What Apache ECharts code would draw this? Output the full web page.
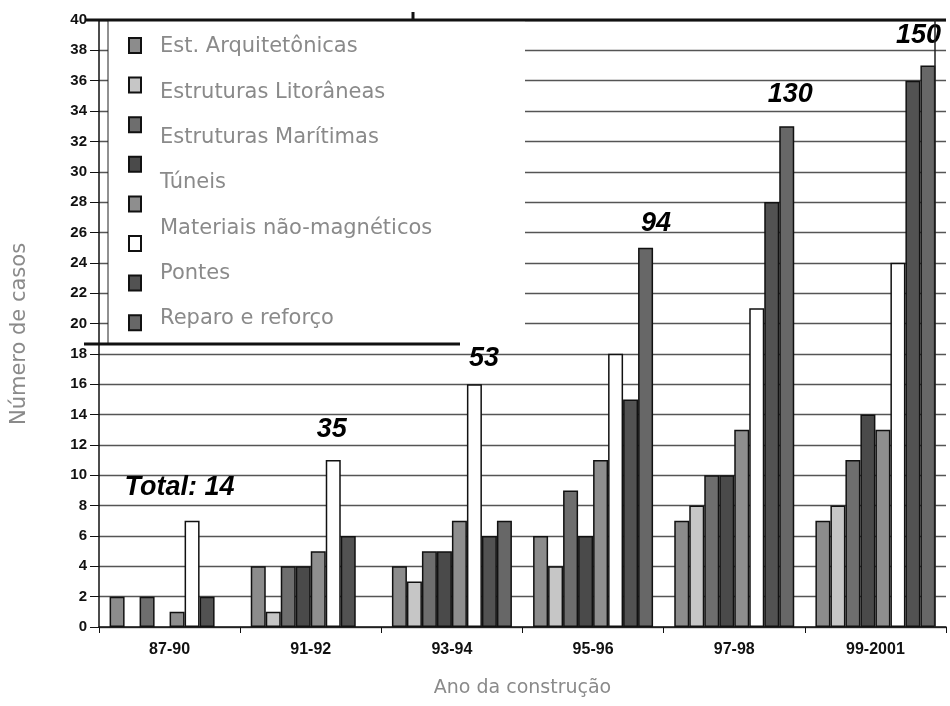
<!DOCTYPE html>
<html>
<head>
<meta charset="utf-8">
<script src="https://cdn.jsdelivr.net/npm/echarts@6/dist/echarts.min.js"></script>
<style>html,body{margin:0;padding:0;background:#fff}#c{width:950px;height:706px}</style>
</head>
<body>
<div id="c"></div>
<script>
// ---- data ----
const categories = ['87-90', '91-92', '93-94', '95-96', '97-98', '99-2001'];
const estArquitetonicas = [2, 4, 4, 6, 7, 7];
const estLitoraneas = [0, 1, 3, 4, 8, 8];
const estMaritimas = [2, 4, 5, 9, 10, 11];
const tuneis = [0, 4, 5, 6, 10, 14];
const semRotulo = [1, 5, 7, 11, 13, 13];
const naoMagneticos = [7, 11, 16, 18, 21, 24];
const pontes = [2, 6, 6, 15, 28, 36];
const reparoReforco = [0, 0, 7, 25, 33, 37];
const totals = [14, 35, 53, 94, 130, 150];
const legendLabels = ['Est. Arquitetônicas', 'Estruturas Litorâneas', 'Estruturas Marítimas', 'Túneis',
  'Materiais não-magnéticos', 'Pontes', 'Reparo e reforço'];
const seriesNames = ['Est. Arquitetônicas', 'Estruturas Litorâneas', 'Estruturas Marítimas', 'Túneis',
  '(sem rótulo)', 'Materiais não-magnéticos', 'Pontes', 'Reparo e reforço'];
const seriesValues = [estArquitetonicas, estLitoraneas, estMaritimas, tuneis, semRotulo, naoMagneticos, pontes, reparoReforco];

// ---- layout / style ----
const colors = ['#8c8c8c', '#c6c6c6', '#6e6e6e', '#4a4a4a', '#8e8e8e', '#ffffff', '#525252', '#676767'];
const totalAnchorLevel = [9.2, 13.0, 17.7, 26.6, 35.1, 39.0];
const totalAnchorDx = [10, 21, 32, 63, 56, 43];
const lightFont = 'DejaVu Sans';
const boldFont = 'Liberation Sans';

const barSeries = seriesNames.map((n, i) => ({
  name: n,
  type: 'bar',
  data: seriesValues[i].map(v => (v === 0 ? '-' : v)),
  barGap: '0%',
  barCategoryGap: '15%',
  itemStyle: { color: colors[i], borderColor: '#111', borderWidth: 1.5 },
  z: 2
}));

const totalSeries = {
  type: 'scatter',
  symbolSize: 0,
  z: 20,
  silent: true,
  itemStyle: { opacity: 1 },
  data: totals.map((t, i) => ({
    value: [categories[i], totalAnchorLevel[i]],
    label: {
      show: true, position: 'inside', offset: [totalAnchorDx[i], 0],
      formatter: (i === 0 ? 'Total: ' : '') + t,
      fontFamily: boldFont, fontWeight: 'bold', fontStyle: 'italic', fontSize: 27, color: '#000'
    }
  }))
};

const graphics = [
  { type: 'rect', z: 3, shape: { x: 108, y: 21, width: 417, height: 323 }, style: { fill: '#fff' } },
  { type: 'line', z: 30, shape: { x1: 108, y1: 20, x2: 108, y2: 344 }, style: { stroke: '#222', lineWidth: 1 } },
  { type: 'line', z: 30, shape: { x1: 84, y1: 344, x2: 460, y2: 344 }, style: { stroke: '#111', lineWidth: 3 } },
  { type: 'line', z: 30, shape: { x1: 86, y1: 20, x2: 946, y2: 20 }, style: { stroke: '#111', lineWidth: 3 } },
  { type: 'line', z: 30, shape: { x1: 413, y1: 12, x2: 413, y2: 20 }, style: { stroke: '#111', lineWidth: 3 } },
  { type: 'line', z: 30, shape: { x1: 935, y1: 20, x2: 935, y2: 627 }, style: { stroke: '#222', lineWidth: 1.5 } },
  { type: 'text', z: 30, rotation: Math.PI / 2, x: 20, y: 334,
    style: { text: 'Número de casos', fill: '#8a8a8a', font: '21px "' + lightFont + '"', textAlign: 'center', textVerticalAlign: 'middle' } }
];
legendLabels.forEach((t, i) => {
  graphics.push({ type: 'text', z: 30, x: 160, y: 47 + i * 45.3,
    style: { text: t, fill: '#8a8a8a', font: '21px "' + lightFont + '"', textAlign: 'left', textVerticalAlign: 'middle' } });
});

const chart = echarts.init(document.getElementById('c'));
chart.setOption({
  animation: false,
  backgroundColor: '#fff',
  grid: { left: 99, right: 4, top: 20, bottom: 79 },
  legend: {
    data: seriesNames, orient: 'vertical', left: 128, top: 37, z: 10,
    icon: 'rect', itemWidth: 12, itemHeight: 15, itemGap: 22.6, padding: 0,
    formatter: () => '', textStyle: { fontSize: 8, lineHeight: 15 },
    selectedMode: false
  },
  xAxis: {
    type: 'category', data: categories,
    name: 'Ano da construção', nameLocation: 'middle', nameGap: 52,
    nameTextStyle: { fontFamily: lightFont, fontSize: 19, color: '#8a8a8a' },
    axisLine: { lineStyle: { color: '#111', width: 1.5 } },
    axisTick: { show: true, length: 6, lineStyle: { color: '#111' } },
    axisLabel: { fontFamily: boldFont, fontWeight: 'bold', fontSize: 16, color: '#111', margin: 15 }
  },
  yAxis: {
    type: 'value', min: 0, max: 40, interval: 2,
    axisLine: { show: true, lineStyle: { color: '#111', width: 1.5 } },
    axisTick: { show: true, length: 9, lineStyle: { color: '#111' } },
    axisLabel: { fontFamily: boldFont, fontWeight: 'bold', fontSize: 15, color: '#111', margin: 12 },
    splitLine: { lineStyle: { color: '#555', width: 1.3 } }
  },
  graphic: graphics,
  series: barSeries.concat([totalSeries])
});
</script>
</body>
</html>
